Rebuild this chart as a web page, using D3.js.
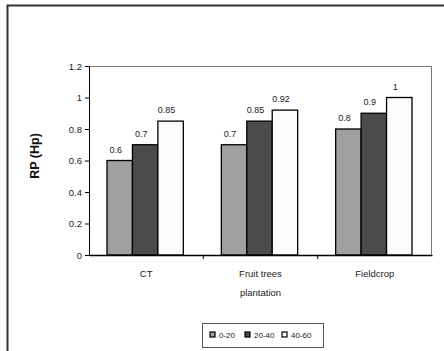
<!DOCTYPE html>
<html>
<head>
<meta charset="utf-8">
<script src="https://cdn.jsdelivr.net/npm/d3@7"></script>
<style>
  body { margin: 0; background: #fff; }
  svg { font-family: "Liberation Sans", Arial, sans-serif; }
</style>
</head>
<body>
<div id="chart"></div>
<script>
// data
const categories = ["CT", "Fruit trees plantation", "Fieldcrop"];
const depths = ["0-20", "20-40", "40-60"];
const values = {
    "0-20":  [0.6, 0.7, 0.8],
    "20-40": [0.7, 0.85, 0.9],
    "40-60": [0.85, 0.92, 1]
};
const yTicks = [0, 0.2, 0.4, 0.6, 0.8, 1, 1.2];
const colors = ["#a0a0a0", "#4b4b4b", "#fbfbfb"];

const W = 444, H = 351;
const margin = { top: 66, right: 12, bottom: 96, left: 89 };
const width = W - margin.left - margin.right;
const height = H - margin.top - margin.bottom;

const svg = d3.select("#chart").append("svg")
    .attr("width", W)
    .attr("height", H);

// outer frame (only top and left edges are inside the picture)
svg.append("path")
    .attr("d", `M7.5,${H} V5.5 H${W}`)
    .attr("fill", "none")
    .attr("stroke", "#333")
    .attr("stroke-width", 2);

const g = svg.append("g")
    .attr("transform", `translate(${margin.left},${margin.top})`);

const x = d3.scaleBand()
    .domain(categories)
    .range([0, width]);

const xInner = d3.scaleBand()
    .domain(depths)
    .range([18, x.bandwidth() - 20]);

const y = d3.scaleLinear()
    .domain([0, 1.2])
    .range([height, 0]);

const color = d3.scaleOrdinal()
    .domain(depths)
    .range(colors);

// plot area border on top and right
g.append("path")
    .attr("d", `M0,0.5 H${width - 0.5} V${height}`)
    .attr("fill", "none")
    .attr("stroke", "#777")
    .attr("stroke-width", 1);

// bars
const rows = [];
depths.forEach(d => categories.forEach((c, i) => {
    rows.push({ depth: d, cat: c, value: values[d][i] });
}));

g.selectAll("rect.bar")
    .data(rows)
    .enter()
    .append("rect")
    .attr("class", "bar")
    .attr("x", d => x(d.cat) + xInner(d.depth))
    .attr("y", d => y(d.value))
    .attr("width", xInner.bandwidth())
    .attr("height", d => height - y(d.value))
    .attr("fill", d => color(d.depth))
    .attr("stroke", "#000")
    .attr("stroke-width", 1.3);

g.selectAll("text.val")
    .data(rows)
    .enter()
    .append("text")
    .attr("class", "val")
    .attr("text-anchor", "middle")
    .attr("font-size", "9px")
    .attr("fill", "#222")
    .attr("x", d => x(d.cat) + xInner(d.depth) + xInner.bandwidth() / 2 - 4)
    .attr("y", d => y(d.value) - 8)
    .text(d => d.value);

// y axis
const yAxis = g.append("g")
    .call(d3.axisLeft(y).tickValues(yTicks).tickSize(4).tickFormat(d3.format("")));
yAxis.select(".domain").attr("stroke", "#000");
yAxis.selectAll("text").attr("font-size", "9.5px").attr("fill", "#222");

// x axis
const xAxis = g.append("g")
    .attr("transform", `translate(0,${height})`)
    .call(d3.axisBottom(x).tickSize(0).tickFormat(""));
xAxis.select(".domain").attr("stroke", "#000").attr("stroke-width", 1.5);

g.selectAll("line.sep")
    .data(categories.slice(1))
    .enter()
    .append("line")
    .attr("class", "sep")
    .attr("x1", d => x(d))
    .attr("x2", d => x(d))
    .attr("y1", height)
    .attr("y2", height + 4)
    .attr("stroke", "#000");

// category labels (wrapped like the original)
const catLines = { "CT": ["CT"], "Fruit trees plantation": ["Fruit trees", "plantation"], "Fieldcrop": ["Fieldcrop"] };
categories.forEach(c => {
    const t = g.append("text")
        .attr("text-anchor", "middle")
        .attr("font-size", "9.5px")
        .attr("fill", "#222")
        .attr("x", x(c) + x.bandwidth() / 2)
        .attr("y", height + 22);
    catLines[c].forEach((line, i) => {
        t.append("tspan")
            .attr("x", x(c) + x.bandwidth() / 2)
            .attr("dy", i === 0 ? 0 : 19)
            .text(line);
    });
});

// y title
svg.append("text")
    .attr("transform", "translate(39,156) rotate(-90)")
    .attr("text-anchor", "middle")
    .attr("font-size", "12.5px")
    .attr("font-weight", "bold")
    .attr("fill", "#111")
    .text("RP (Hp)");

// legend
const legend = svg.append("g")
    .attr("transform", "translate(202,323)");
legend.append("rect")
    .attr("x", 0.5).attr("y", 0.5)
    .attr("width", 121).attr("height", 24)
    .attr("fill", "#fff")
    .attr("stroke", "#555");

const legX = [8, 43, 80];
const items = legend.selectAll("g.item")
    .data(depths)
    .enter()
    .append("g")
    .attr("class", "item")
    .attr("transform", (d, i) => `translate(${legX[i]},9)`);
items.append("rect")
    .attr("width", 5).attr("height", 5)
    .attr("fill", d => color(d))
    .attr("stroke", "#000")
    .attr("stroke-width", 1.2);
items.append("text")
    .attr("x", 9)
    .attr("y", 5.5)
    .attr("font-size", "8px")
    .attr("fill", "#222")
    .text(d => d);
</script>
</body>
</html>
